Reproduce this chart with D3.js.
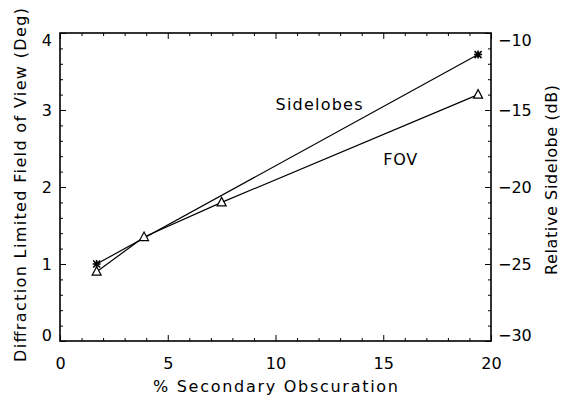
<!DOCTYPE html>
<html>
<head>
<meta charset="utf-8">
<script src="https://cdn.jsdelivr.net/npm/d3@7"></script>
<style>
  body { margin: 0; background: #fff; }
  text { font-family: "DejaVu Sans", sans-serif; fill: #000; }
</style>
</head>
<body>
<script>
// values
const obscuration = [1.7, 3.9, 7.5, 19.4];          // % secondary obscuration
const fov = [0.9, 1.35, 1.8, 3.2];                  // deg
const sidelobeX = [1.7, 19.4];
const sidelobeDb = [-25, -11.4];                    // dB
const xTicks = [0, 5, 10, 15, 20];
const yLeftTicks = [0, 1, 2, 3, 4];
const yRightTicks = [-30, -25, -20, -15, -10];

const w = 561;
const h = 400;
const margin = {left: 60, right: 70, top: 33, bottom: 59};

let svg = d3.select("body")
  .append("svg")
  .attr("width", w)
  .attr("height", h);

let xScale = d3.scaleLinear().domain([0, 20]).range([margin.left, w - margin.right]);
let yScale = d3.scaleLinear().domain([0, 4]).range([h - margin.bottom, margin.top]);
let dbScale = d3.scaleLinear().domain([-30, -10]).range([h - margin.bottom, margin.top]);

const x0 = margin.left, x1 = w - margin.right;
const y0 = h - margin.bottom, y1 = margin.top;

// minor ticks every 1 / 0.2 / 1 dB
const xMinor = d3.range(0, 20.01, 1).filter(v => v % 5 != 0);
const yMinor = d3.range(0, 4.01, 0.2).filter(v => Math.abs(v - Math.round(v)) > 0.01);
const dbMinor = d3.range(-30, -9.99, 1).filter(v => v % 5 != 0);

function axisGroup(axis, tx, ty) {
  let g = svg.append("g")
    .attr("transform", "translate(" + tx + "," + ty + ")")
    .call(axis);
  g.select(".domain").remove();
  g.selectAll("line").attr("stroke", "#000").attr("stroke-width", 1);
  g.selectAll("text").style("font-size", "16px").attr("font-family", null);
  return g;
}

// bottom
axisGroup(d3.axisBottom(xScale).tickValues(xTicks).tickSize(-6).tickPadding(17), 0, y0);
axisGroup(d3.axisBottom(xScale).tickValues(xMinor).tickSize(-3).tickFormat(""), 0, y0);
// top
axisGroup(d3.axisTop(xScale).tickValues(xTicks).tickSize(-6).tickFormat(""), 0, y1);
axisGroup(d3.axisTop(xScale).tickValues(xMinor).tickSize(-3).tickFormat(""), 0, y1);
// left
let left = axisGroup(d3.axisLeft(yScale).tickValues(yLeftTicks).tickSize(-6).tickPadding(8)
  .tickFormat(d3.format("d")), x0, 0);
axisGroup(d3.axisLeft(yScale).tickValues(yMinor).tickSize(-3).tickFormat(""), x0, 0);
// right
let right = axisGroup(d3.axisRight(dbScale).tickValues(yRightTicks).tickSize(-6).tickPadding(7)
  .tickFormat(d => "\u2212" + Math.abs(d)), x1, 0);
axisGroup(d3.axisRight(dbScale).tickValues(dbMinor).tickSize(-3).tickFormat(""), x1, 0);

// end labels are pushed inside the frame
left.selectAll("text").attr("dy", d => d == 4 ? "0.75em" : d == 0 ? "-0.05em" : "0.32em");
right.selectAll("text").attr("dy", d => d == -10 ? "0.75em" : d == -30 ? "-0.05em" : "0.32em");

// frame
svg.append("rect")
  .attr("x", x0).attr("y", y1)
  .attr("width", x1 - x0).attr("height", y0 - y1)
  .attr("fill", "none").attr("stroke", "#000").attr("stroke-width", 1.6);

// FOV line + triangles, sidelobe line + asterisks
let line = d3.line().x(d => xScale(d[0])).y(d => d[1]);
const fovPts = obscuration.map((v, i) => [v, yScale(fov[i])]);
const sidePts = sidelobeX.map((v, i) => [v, dbScale(sidelobeDb[i])]);

svg.append("path").attr("d", line(fovPts))
  .attr("fill", "none").attr("stroke", "#000").attr("stroke-width", 1.2);
svg.append("path").attr("d", line(sidePts))
  .attr("fill", "none").attr("stroke", "#000").attr("stroke-width", 1.2);

svg.selectAll(".tri")
  .data(fovPts)
  .enter()
  .append("path")
  .attr("class", "tri")
  .attr("transform", d => "translate(" + xScale(d[0]) + "," + d[1] + ")")
  .attr("d", "M0,-5L4.5,3.5L-4.5,3.5Z")
  .attr("fill", "#fff").attr("stroke", "#000").attr("stroke-width", 1.2);

svg.selectAll(".star")
  .data(sidePts)
  .enter()
  .append("path")
  .attr("class", "star")
  .attr("transform", d => "translate(" + xScale(d[0]) + "," + d[1] + ")")
  .attr("d", "M-4,0H4M0,-4V4M-3.5,-3.5L3.5,3.5M-3.5,3.5L3.5,-3.5")
  .attr("stroke", "#000").attr("stroke-width", 1.6);

// curve labels
svg.append("text")
  .attr("x", xScale(10)).attr("y", yScale(3.0))
  .attr("textLength", 87).attr("lengthAdjust", "spacing")
  .style("font-size", "16px")
  .text("Sidelobes");
svg.append("text")
  .attr("x", xScale(15)).attr("y", yScale(2.29))
  .attr("textLength", 34).attr("lengthAdjust", "spacing")
  .style("font-size", "16px")
  .text("FOV");

// axis titles
svg.append("text")
  .attr("x", (x0 + x1) / 2).attr("y", 392)
  .attr("textLength", 245).attr("lengthAdjust", "spacing")
  .style("text-anchor", "middle")
  .style("font-size", "16px")
  .text("% Secondary Obscuration");
svg.append("text")
  .attr("transform", "translate(26,185) rotate(-90)")
  .attr("textLength", 354).attr("lengthAdjust", "spacing")
  .style("text-anchor", "middle")
  .style("font-size", "16px")
  .text("Diffraction Limited Field of View (Deg)");
svg.append("text")
  .attr("transform", "translate(557,180) rotate(-90)")
  .attr("textLength", 190).attr("lengthAdjust", "spacing")
  .style("text-anchor", "middle")
  .style("font-size", "16px")
  .text("Relative Sidelobe (dB)");
</script>
</body>
</html>
